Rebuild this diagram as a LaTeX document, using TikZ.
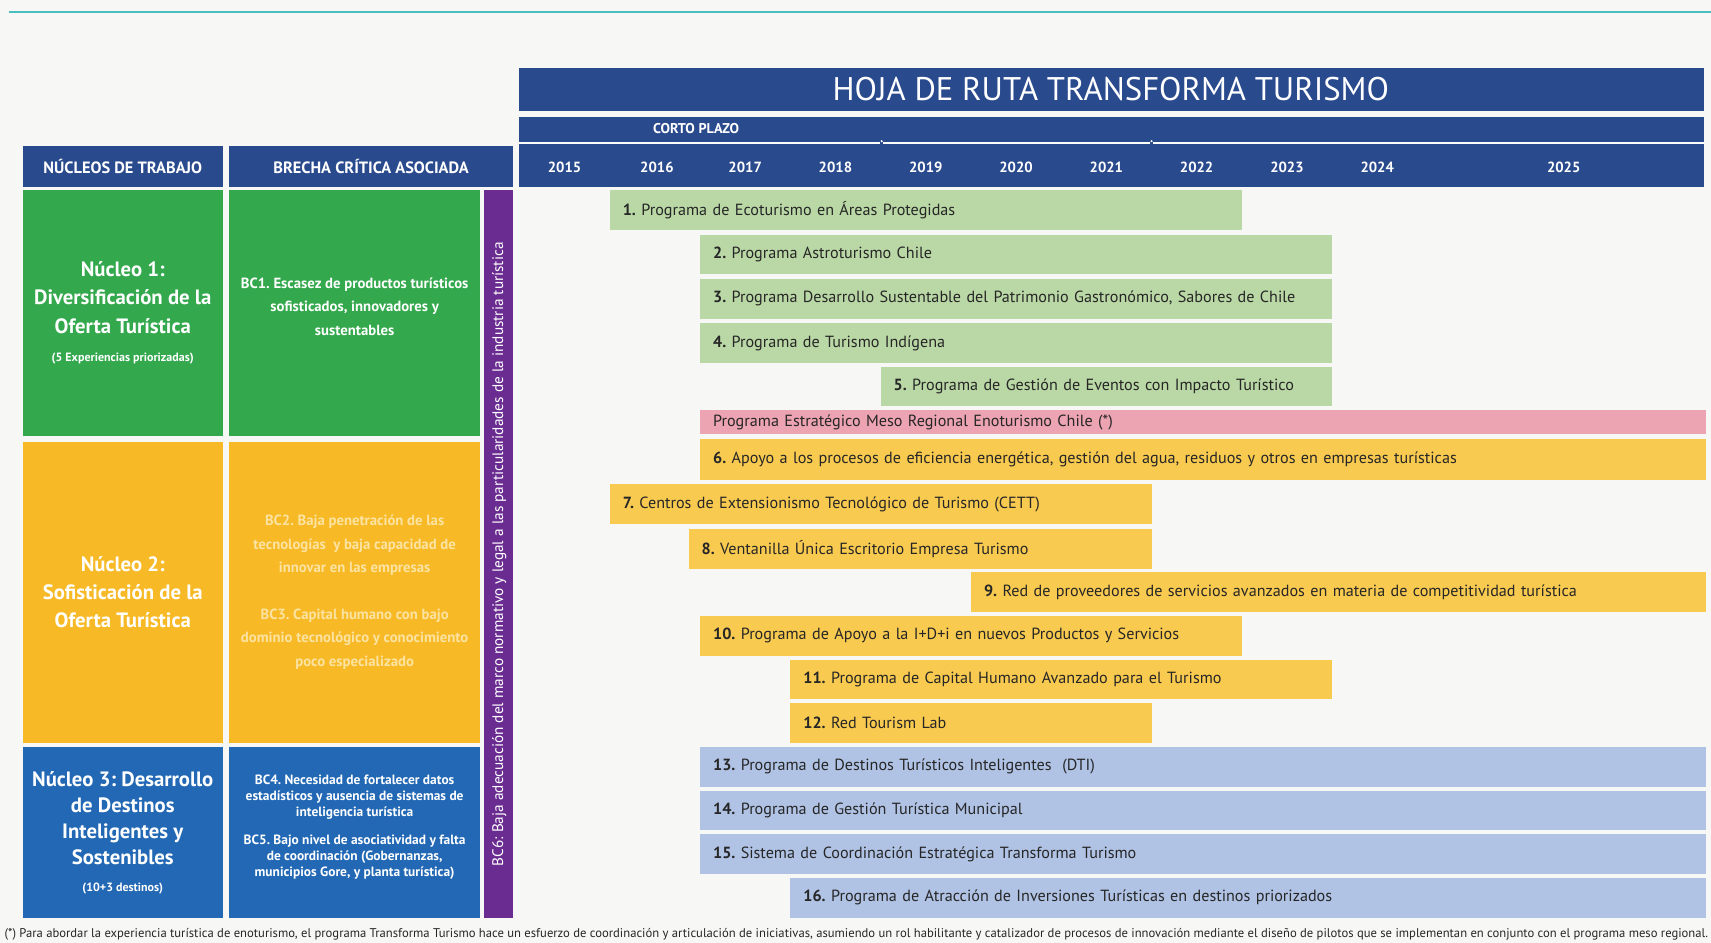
\documentclass[tikz,border=0pt]{standalone}
\usepackage{fontspec}
\usepackage{graphicx}
\setmainfont{PT Sans}
\frenchspacing
\definecolor{hdrblue}{RGB}{42,74,142}
\definecolor{ngreen}{RGB}{51,168,77}
\definecolor{nyellow}{RGB}{247,186,38}
\definecolor{nblue}{RGB}{34,104,180}
\definecolor{bcpurple}{RGB}{106,44,145}
\definecolor{lgreen}{RGB}{186,216,165}
\definecolor{lyellow}{RGB}{249,202,80}
\definecolor{lblue}{RGB}{176,195,229}
\definecolor{lpink}{RGB}{237,164,178}
\definecolor{bgcol}{RGB}{247,247,245}
\definecolor{tealline}{RGB}{77,190,192}
\definecolor{bartext}{RGB}{38,38,38}
\definecolor{fainttext}{RGB}{252,227,162}

% rectangle node from corners: name, x1, y1, x2, y2, options, text
\newcommand\RN[7]{%
  \pgfmathsetmacro\RNw{#4-#2}\pgfmathsetmacro\RNh{#5-#3}%
  \pgfmathsetmacro\RNx{(#2+#4)/2}\pgfmathsetmacro\RNy{(#3+#5)/2}%
  \node[boxrect, minimum width=\RNw pt, minimum height=\RNh pt, #6] (#1) at (\RNx,\RNy) {#7};}
% programme bar: name, x1, x2, y1, y2, colour, text
\newcommand\pbar[7]{%
  \pgfmathsetmacro\PBw{#3-#2-24}\pgfmathsetmacro\PBh{#5-#4}%
  \node[barbox, fill=#6, text width=\PBw pt, minimum height=\PBh pt, anchor=north west] (#1) at (#2,#4) {#7};}

\begin{document}
\begin{tikzpicture}[x=1pt,y=-1pt,
  boxrect/.style={rectangle, inner sep=0pt, outer sep=0pt},
  hdr/.style={fill=hdrblue, text=white, font=\bfseries\fontsize{15}{17}\selectfont},
  yearlbl/.style={inner sep=0pt, text=white, font=\bfseries\fontsize{13.5}{15}\selectfont},
  core/.style={text=white, align=center, font=\bfseries\fontsize{19}{26}\selectfont},
  corethree/.style={text=white, align=center, font=\bfseries\fontsize{19}{24}\selectfont},
  brecha/.style={inner sep=0pt, text=white, align=center, font=\bfseries\fontsize{13.5}{21.5}\selectfont},
  brechafour/.style={inner sep=0pt, text=white, align=center, font=\bfseries\fontsize{12.3}{14.5}\selectfont},
  barbox/.style={rectangle, outer sep=0pt, inner xsep=12pt, inner ysep=0pt, align=left, text=bartext, font=\fontsize{14.8}{16}\selectfont},
  sepline/.style={white, line width=2pt}
]
\useasboundingbox (0,0) rectangle (1568,864);
\fill[bgcol] (0,0) rectangle (1568,864);
\draw[tealline, line width=2pt] (8,11) -- (1568,11);

% ---- timeline header
\RN{title}{476}{62}{1562}{102}{fill=hdrblue, text=white, font=\fontsize{30}{32}\selectfont}{\hspace*{-2pt}HOJA DE RUTA TRANSFORMA TURISMO}
\RN{band}{476}{107}{1562}{171}{fill=hdrblue}{}
\node[inner sep=0pt, text=white, font=\bfseries\fontsize{13}{15}\selectfont] (corto) at (638,118) {CORTO PLAZO};
\draw[sepline] (476,131) -- (806.5,131);
\draw[sepline] (809.5,131) -- (1053.8,131);
\draw[sepline] (1056.8,131) -- (1562,131);
\fill[white] (808,129.4) circle (1.1);
\fill[white] (1055.3,129.4) circle (1.1);
\foreach \yr/\xx in {2015/517.4,2016/602,2017/682.9,2018/765.6,2019/848.4,2020/931.1,2021/1013.9,2022/1096.6,2023/1179.4,2024/1262.1,2025/1433}
  \node[yearlbl] (y\yr) at (\xx,153) {\yr};

% ---- left headers
\RN{hnuc}{21}{134}{204}{171}{hdr}{NÚCLEOS DE TRABAJO}
\RN{hbre}{210}{134}{470}{171}{hdr}{BRECHA CRÍTICA ASOCIADA}

% ---- nucleos
\RN{n1}{21}{174}{204}{399.5}{core, fill=ngreen}{Núcleo 1:\\Diversificación de la\\Oferta Turística\\{\fontsize{11}{12}\selectfont (5 Experiencias priorizadas)}}
\RN{n2}{21}{405}{204}{680.5}{core, fill=nyellow}{Núcleo 2:\\Sofisticación de la\\Oferta Turística}
\RN{n3}{21}{685}{204}{841}{corethree, fill=nblue}{Núcleo 3: Desarrollo\\de Destinos\\Inteligentes y\\Sostenibles\\{\fontsize{11}{12}\selectfont (10+3 destinos)}}

% ---- brechas
\RN{bc1}{210}{174}{440}{399.5}{fill=ngreen}{}
\node[brecha] (bc1t) at (325,281) {BC1. Escasez de productos turísticos\\sofisticados, innovadores y\\sustentables};
\RN{bc23}{210}{405}{440}{680.5}{brecha, fill=nyellow, text=fainttext}{BC2. Baja penetración de las\\tecnologías\ \ y baja capacidad de\\innovar en las empresas\\[21pt]BC3. Capital humano con bajo\\dominio tecnológico y conocimiento\\poco especializado}
\RN{bc45}{210}{685}{440}{841}{fill=nblue}{}
\node[brechafour] (bc45t) at (325,758) {BC4. Necesidad de fortalecer datos\\estadísticos y ausencia de sistemas de\\inteligencia turística\\[11pt]BC5. Bajo nivel de asociatividad y falta\\de coordinación (Gobernanzas,\\municipios Gore, y planta turística)};
\RN{bc6}{443.5}{174}{470}{841}{fill=bcpurple}{}
\node[rotate=90, inner sep=0pt, text=white, font=\fontsize{14}{15}\selectfont] (bc6t) at (457.5,508) {BC6: Baja adecuación del marco normativo y legal a las particularidades de la industria turística};

% ---- programme bars
\pbar{p1}{558.75}{1138}{174}{211}{lgreen}{\textbf{1.} Programa de Ecoturismo en Áreas Protegidas}
\pbar{p2}{641.5}{1220.75}{215}{251.5}{lgreen}{\textbf{2.} Programa Astroturismo Chile}
\pbar{p3}{641.5}{1220.75}{255.5}{292}{lgreen}{\textbf{3.} Programa Desarrollo Sustentable del Patrimonio Gastronómico, Sabores de Chile}
\pbar{p4}{641.5}{1220.75}{296}{332.5}{lgreen}{\textbf{4.} Programa de Turismo Indígena}
\pbar{p5}{807}{1220.75}{336}{372}{lgreen}{\textbf{5.} Programa de Gestión de Eventos con Impacto Turístico}
\pbar{pm}{641.5}{1563}{375.5}{398}{lpink}{Programa Estratégico Meso Regional Enoturismo Chile (*)}
\pbar{p6}{641.5}{1563}{402.5}{440}{lyellow}{\textbf{6.} Apoyo a los procesos de eficiencia energética, gestión del agua, residuos y otros en empresas turísticas}
\pbar{p7}{558.75}{1055.25}{444}{480.5}{lyellow}{\textbf{7.} Centros de Extensionismo Tecnológico de Turismo (CETT)}
\pbar{p8}{631}{1055.25}{484.5}{521}{lyellow}{\textbf{8.} Ventanilla Única Escritorio Empresa Turismo}
\pbar{p9}{889.75}{1563}{524.5}{561}{lyellow}{\textbf{9.} Red de proveedores de servicios avanzados en materia de competitividad turística}
\pbar{p10}{641.5}{1138}{564.5}{601}{lyellow}{\textbf{10.} Programa de Apoyo a la I+D+i en nuevos Productos y Servicios}
\pbar{p11}{724.25}{1220.75}{604.5}{641}{lyellow}{\textbf{11.} Programa de Capital Humano Avanzado para el Turismo}
\pbar{p12}{724.25}{1055.25}{644.5}{681}{lyellow}{\textbf{12.} Red Tourism Lab}
\pbar{p13}{641.5}{1563}{684.5}{721}{lblue}{\textbf{13.} Programa de Destinos Turísticos Inteligentes\ \ (DTI)}
\pbar{p14}{641.5}{1563}{724.5}{761}{lblue}{\textbf{14.} Programa de Gestión Turística Municipal}
\pbar{p15}{641.5}{1563}{764.5}{801}{lblue}{\textbf{15.} Sistema de Coordinación Estratégica Transforma Turismo}
\pbar{p16}{724.25}{1563}{804.5}{841}{lblue}{\textbf{16.} Programa de Atracción de Inversiones Turísticas en destinos priorizados}

% ---- footnote
\node[anchor=west, inner sep=0pt, text=bartext] (fn) at (4,856) {\resizebox{1561pt}{!}{\fontsize{10.5}{12}\selectfont (*) Para abordar la experiencia turística de enoturismo, el programa Transforma Turismo hace un esfuerzo de coordinación y articulación de iniciativas, asumiendo un rol habilitante y catalizador de procesos de innovación mediante el diseño de pilotos que se implementan en conjunto con el programa meso regional.}};
\end{tikzpicture}
\end{document}
